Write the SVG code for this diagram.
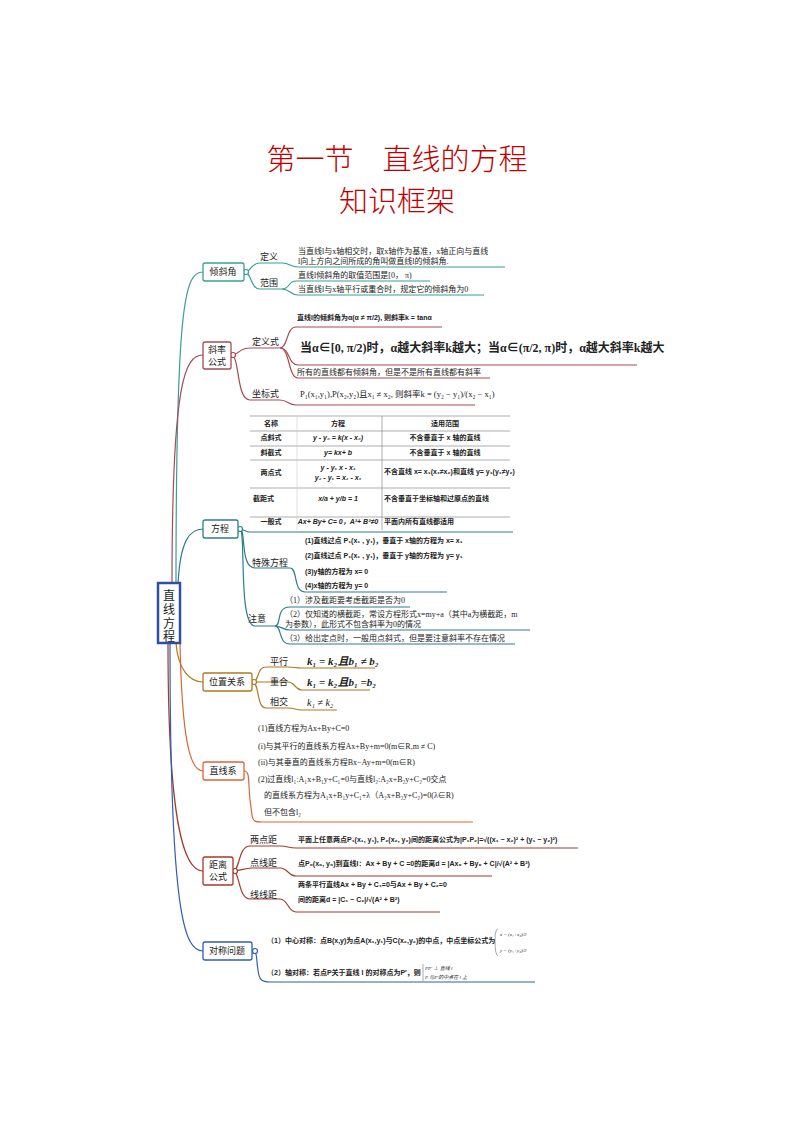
<svg xmlns="http://www.w3.org/2000/svg" width="794" height="1123" viewBox="0 0 794 1123">
<style>
text{font-family:"Liberation Serif","Noto Sans CJK SC",serif;fill:#222}
.s{font-size:8px}
.b{font-size:7px;font-weight:bold;font-family:"Liberation Sans","Noto Sans CJK SC",sans-serif}
.lab{font-size:9px}
.box{fill:#fff;stroke-width:1.3}
.ln{fill:none;stroke-width:1.2}
.title{fill:#c00000;font-size:29px;text-anchor:middle;font-weight:300}
</style>
<rect width="794" height="1123" fill="#fff"/>
<text class="title" x="397" y="170">第一节&#160;&#160;&#160;&#160;直线的方程</text>
<text class="title" x="397" y="212">知识框架</text>

<g id="connectors">
<path class="ln" stroke="#3a9e96" stroke-width="2" d="M176 585 C176 300 185 272 203 272"/>
<path class="ln" stroke="#a84a55" stroke-width="2" d="M172 585 C172 380 185 355 203 355"/>
<path class="ln" stroke="#2e7d8c" stroke-width="2" d="M178 585 C180 540 190 529 203 529"/>
<path class="ln" stroke="#b07820" stroke-width="2" d="M176 643 C178 670 190 682 203 682"/>
<path class="ln" stroke="#d9663a" stroke-width="2" d="M180 643 C182 740 190 771 203 771"/>
<path class="ln" stroke="#a33a2a" stroke-width="2" d="M168 643 C168 830 185 871 203 871"/>
<path class="ln" stroke="#2f5fb0" stroke-width="2.5" d="M170 643 C170 920 185 951 203 951"/>
<g stroke="#3a9e96" class="ln">
<path d="M244 272 C252 272 250 263 260 263 L282 263 C290 263 290 267 298 267 L505 267"/>
<path d="M244 272 C252 272 250 289 260 289 L282 289 C290 289 288 281 296 281 L430 281"/>
<path d="M282 289 C290 289 290 295 298 295 L484 295"/>
<circle cx="246" cy="272" r="2.5" fill="#fff"/>
</g>
<g stroke="#a84a55" class="ln">
<path d="M231 355 C240 355 238 348 250 348 L280 348 C288 348 286 327 296 327 L442 327"/>
<path d="M280 348 C290 348 288 365 298 365 L637 365"/>
<path d="M280 348 C290 348 288 378 298 378 L490 378"/>
<path d="M231 355 C240 355 236 400 250 400 L280 400 C288 400 288 405 296 405 L475 405"/>
<circle cx="233" cy="355" r="2.5" fill="#fff"/>
</g>
<g stroke="#2e7d8c" class="ln">
<path d="M238 529 C245 529 245 532 250 532 L513 532"/>
<path d="M240 529 C246 529 240 568 255 568 L290 568 C298 568 293 592 305 592 L447 592"/>
<path d="M240 529 C246 529 238 626 255 626 L275 626 C282 626 275 607 290 607 L410 607"/>
<path d="M275 626 C282 626 282 630 290 630 L530 630"/>
<path d="M275 626 C282 626 278 644 290 644 L515 644"/>
<circle cx="240" cy="529" r="2.5" fill="#fff"/>
</g>
<g stroke="#b07820" class="ln">
<path d="M252 682 C260 682 256 667 266 667 L288 667 C295 667 295 668 302 668 L375 668"/>
<path d="M252 682 L288 682 C295 682 295 690 302 690 L370 690"/>
<path d="M252 682 C260 682 256 708 266 708 L288 708 C295 708 295 710 302 710 L337 710"/>
<circle cx="254" cy="682" r="2.5" fill="#fff"/>
</g>
<path class="ln" stroke="#d9663a" d="M244 771 C250 771 248 780 250 800 L252 815 C253 822 256 822 262 822 L473 822"/>
<g stroke="#a33a2a" class="ln">
<path d="M233 871 C240 871 238 846 250 846 L280 846 C288 846 288 848 296 848 L578 848"/>
<path d="M233 871 C240 871 244 868 252 868 L280 868 C288 868 288 876 296 876 L492 876"/>
<path d="M233 871 C240 871 238 899 250 899 L280 899 C288 899 288 912 296 912 L440 912"/>
<circle cx="235" cy="871" r="2.5" fill="#fff"/>
</g>
<g stroke="#2f5fb0" class="ln">
<path d="M252 951 C258 951 256 960 258 970 C259 980 262 982 270 982 L535 982"/>
<circle cx="255" cy="951" r="2.5" fill="#fff"/>
</g>
</g>

<g id="root">
<rect x="158" y="583" width="22" height="60" fill="#fff" stroke="#2f4fa0" stroke-width="2.5"/>
<text x="169" y="600" font-size="12" text-anchor="middle">直</text>
<text x="169" y="614" font-size="12" text-anchor="middle">线</text>
<text x="169" y="628" font-size="12" text-anchor="middle">方</text>
<text x="169" y="641" font-size="12" text-anchor="middle">程</text>
</g>

<g id="n-qxj"><rect class="box" x="203" y="263" width="41" height="18" rx="2" stroke="#3a9e96"/><text x="223" y="275" class="lab" text-anchor="middle">倾斜角</text>
<text x="260" y="260" class="lab">定义</text><text x="260" y="286" class="lab">范围</text>
<text x="298" y="254" class="s">当直线l与x轴相交时，取x轴作为基准，x轴正向与直线</text>
<text x="298" y="264" class="s">l向上方向之间所成的角叫做直线l的倾斜角.</text>
<text x="298" y="278" class="s">直线l倾斜角的取值范围是[0， π)</text>
<text x="298" y="292" class="s">当直线l与x轴平行或重合时，规定它的倾斜角为0</text></g>

<g id="n-xl"><rect class="box" x="203" y="342" width="28" height="27" rx="2" stroke="#a84a55"/><text x="217" y="353" class="lab" text-anchor="middle">斜率</text><text x="217" y="365" class="lab" text-anchor="middle">公式</text>
<text x="252" y="345" class="lab">定义式</text><text x="252" y="397" class="lab">坐标式</text>
<text x="297" y="320" class="b">直线l的倾斜角为α(α ≠ π/2), 则斜率k = tanα</text>
<text x="300" y="352" font-size="12" font-weight="bold">当α∈[0, π/2)时，α越大斜率k越大；当α∈(π/2, π)时，α越大斜率k越大</text>
<text x="297" y="375" class="s">所有的直线都有倾斜角，但是不是所有直线都有斜率</text>
<text x="300" y="397" font-size="8.5">P₁(x₁,y₁),P(x₂,y₂)且x₁ ≠ x₂, 则斜率k = (y₂ − y₁)/(x₂ − x₁)</text></g>

<g id="table">
<g stroke="#777" stroke-width="0.6">
<line x1="250" y1="416" x2="510" y2="416"/><line x1="250" y1="431" x2="510" y2="431"/><line x1="250" y1="446" x2="510" y2="446"/><line x1="250" y1="460" x2="510" y2="460"/><line x1="250" y1="488" x2="510" y2="488"/><line x1="250" y1="517" x2="510" y2="517"/>
<line x1="382" y1="416" x2="382" y2="530"/><line x1="297" y1="416" x2="297" y2="530" stroke="#ccc"/>
</g>
<text x="271" y="426" class="b" font-size="5.5" text-anchor="middle">名称</text><text x="338" y="426" class="b" font-size="5.5" text-anchor="middle">方程</text><text x="445" y="426" class="b" font-size="5.5" text-anchor="middle">适用范围</text>
<text x="271" y="440" class="b" font-size="5.5" text-anchor="middle">点斜式</text><text x="338" y="440" class="b" font-size="5.5" text-anchor="middle" font-style="italic">y - y₀ = k(x - x₀)</text><text x="445" y="440" class="b" font-size="5.5" text-anchor="middle">不含垂直于 x 轴的直线</text>
<text x="271" y="455" class="b" font-size="5.5" text-anchor="middle">斜截式</text><text x="338" y="455" class="b" font-size="5.5" text-anchor="middle" font-style="italic">y= kx+ b</text><text x="445" y="455" class="b" font-size="5.5" text-anchor="middle">不含垂直于 x 轴的直线</text>
<text x="271" y="475" class="b" font-size="5.5" text-anchor="middle">两点式</text><text x="338" y="470" class="b" font-size="5.5" text-anchor="middle" font-style="italic">y - y₁    x - x₁</text><text x="338" y="480" class="b" font-size="5.5" text-anchor="middle" font-style="italic">y₂ - y₁ = x₂ - x₁</text><text x="384" y="474" class="b" font-size="5.5">不含直线 x= x₁(x₁≠x₂)和直线 y= y₁(y₁≠y₂)</text>
<text x="253" y="501" class="b" font-size="5.5">截距式</text><text x="338" y="501" class="b" font-size="5.5" text-anchor="middle" font-style="italic">x/a + y/b = 1</text><text x="384" y="501" class="b" font-size="5.5">不含垂直于坐标轴和过原点的直线</text>
<text x="271" y="524" class="b" font-size="5.5" text-anchor="middle">一般式</text><text x="338" y="524" class="b" font-size="5.5" text-anchor="middle" font-style="italic">Ax+ By+ C= 0，A²+ B²≠0</text><text x="384" y="524" class="b" font-size="5.5">平面内所有直线都适用</text>
</g>

<g id="n-fc"><rect class="box" x="203" y="520" width="35" height="18" rx="2" stroke="#2e7d8c"/><text x="220" y="532" class="lab" text-anchor="middle">方程</text>
<text x="252" y="566" class="lab">特殊方程</text>
<text x="305" y="543" class="b" font-size="6">(1)直线过点 P₁(x₁ , y₁)，垂直于 x轴的方程为 x= x₁</text>
<text x="305" y="558" class="b" font-size="6">(2)直线过点 P₁(x₁ , y₁)，垂直于 y轴的方程为 y= y₁</text>
<text x="305" y="574" class="b" font-size="6">(3)y轴的方程为 x= 0</text>
<text x="305" y="588" class="b" font-size="6">(4)x轴的方程为 y= 0</text>
<text x="248" y="622" class="lab">注意</text>
<text x="285" y="603" class="s">（1）涉及截距要考虑截距是否为0</text>
<text x="285" y="617" class="s">（2）仅知道的横截距，常设方程形式x=my+a（其中a为横截距，m</text>
<text x="285" y="627" class="s">为参数），此形式不包含斜率为0的情况</text>
<text x="285" y="641" class="s">（3）给出定点时，一般用点斜式，但是要注意斜率不存在情况</text></g>

<g id="n-wz"><rect class="box" x="203" y="673" width="49" height="18" rx="2" stroke="#b07820"/><text x="227" y="685" class="lab" text-anchor="middle">位置关系</text>
<text x="270" y="665" class="lab">平行</text><text x="270" y="685" class="lab">重合</text><text x="270" y="705" class="lab">相交</text>
<text x="307" y="665" font-size="11" font-weight="bold" font-style="italic">k₁ = k₂且b₁ ≠ b₂</text>
<text x="307" y="686" font-size="11" font-weight="bold" font-style="italic">k₁ = k₂且b₁ =b₂</text>
<text x="307" y="706" font-size="10" font-style="italic">k₁ ≠ k₂</text></g>

<g id="n-zxx"><rect class="box" x="203" y="762" width="41" height="18" rx="2" stroke="#d9663a"/><text x="223" y="774" class="lab" text-anchor="middle">直线系</text>
<text x="258" y="731" class="s">(1)直线方程为Ax+By+C=0</text>
<text x="258" y="749" class="s">(i)与其平行的直线系方程Ax+By+m=0(m∈R,m ≠ C)</text>
<text x="258" y="765" class="s">(ii)与其垂直的直线系方程Bx−Ay+m=0(m∈R)</text>
<text x="258" y="782" class="s">(2)过直线l₁:A₁x+B₁y+C₁=0与直线l₂:A₂x+B₂y+C₂=0交点</text>
<text x="264" y="798" class="s">的直线系方程为A₁x+B₁y+C₁+λ（A₂x+B₂y+C₂)=0(λ∈R)</text>
<text x="264" y="815" class="s">但不包含l₂</text></g>

<g id="n-jl"><rect class="box" x="203" y="857" width="30" height="28" rx="2" stroke="#a33a2a"/><text x="218" y="868" class="lab" text-anchor="middle">距离</text><text x="218" y="880" class="lab" text-anchor="middle">公式</text>
<text x="250" y="843" class="lab">两点距</text><text x="250" y="866" class="lab">点线距</text><text x="250" y="898" class="lab">线线距</text>
<text x="298" y="842" class="b">平面上任意两点P₁(x₁, y₁), P₂(x₂, y₂)间的距离公式为|P₁P₂|=√((x₁ − x₂)² + (y₁ − y₂)²)</text>
<text x="298" y="866" class="b">点P₀(x₀, y₀)到直线l：Ax + By + C =0的距离d = |Ax₀ + By₀ + C|/√(A² + B²)</text>
<text x="298" y="887" class="b">两条平行直线Ax + By + C₁=0与Ax + By + C₂=0</text>
<text x="298" y="902" class="b">间的距离d = |C₁ − C₂|/√(A² + B²)</text></g>

<g id="n-dc"><rect class="box" x="203" y="942" width="49" height="18" rx="2" stroke="#2f5fb0"/><text x="227" y="954" class="lab" text-anchor="middle">对称问题</text>
<text x="267" y="943" class="b">（1）中心对称：点B(x,y)为点A(x₁,y₁)与C(x₂,y₂)的中点，中点坐标公式为</text>
<text x="500" y="936" font-size="5" font-style="italic">x = (x₁+x₂)/2</text>
<text x="500" y="952" font-size="5" font-style="italic">y = (y₁+y₂)/2</text>
<path d="M498 929 Q495 929 495 940 Q495 955 498 956" fill="none" stroke="#555" stroke-width="0.5"/>
<text x="267" y="975" class="b">（2）轴对称：若点P关于直线 l 的对称点为P′，则</text>
<text x="425" y="970" font-size="5" font-style="italic">PP′ ⊥ 直线 l</text>
<text x="425" y="979" font-size="5" font-style="italic">P 与P′的中点在 l 上</text>
<path d="M423 964 L423 981" fill="none" stroke="#555" stroke-width="0.5"/></g>
</svg>
